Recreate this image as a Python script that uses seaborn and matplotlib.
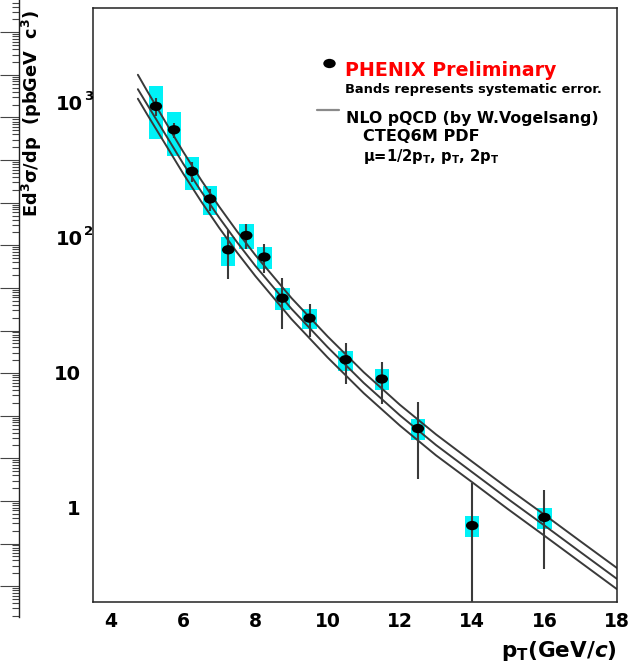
import numpy as np
import pandas as pd
import matplotlib
matplotlib.use("Agg")
import matplotlib.pyplot as plt
import seaborn as sns
from matplotlib.path import Path
from matplotlib.markers import MarkerStyle
from matplotlib.transforms import Affine2D, blended_transform_factory, offset_copy
from matplotlib.ticker import FixedLocator, LogLocator, MultipleLocator, NullFormatter, NullLocator

# PHENIX preliminary direct-photon invariant cross section
pt = [5.25, 5.75, 6.25, 6.75, 7.25, 7.75, 8.25, 8.75, 9.5, 10.5, 11.5, 12.5, 14.0, 16.0]
xsec = [940, 630, 310, 194, 81.5, 104, 72, 35.7, 25.4, 12.5, 9.0, 3.87, 0.74, 0.85]
stat_err = [140, 80, 53, 37, 32, 22, 17.5, 14.5, 7.0, 4.2, 3.1, 2.24, 0.79, 0.50]
sys_err = [400, 225, 85, 46, 20, 22, 13, 6.6, 4.3, 2.1, 1.6, 0.70, 0.13, 0.15]

# NLO pQCD (W. Vogelsang, CTEQ6M) for mu = pT/2, pT, 2pT
nlo_pt = [4.75, 5.0, 5.5, 6.0, 6.5, 7.0, 7.5, 8.0, 9.0, 10.0, 11.0, 12.0,
          13.0, 14.0, 15.0, 16.0, 17.0, 18.0]
nlo_half_pt = [1610, 1230, 730, 435, 268, 170, 111, 74.5, 35.8, 18.6, 10.1, 5.80,
               3.50, 2.20, 1.39, 0.89, 0.565, 0.36]
nlo_one_pt = [1259, 977, 589, 355, 221, 141, 92.3, 62.0, 29.8, 15.5, 8.42, 4.85,
              2.92, 1.84, 1.16, 0.741, 0.470, 0.299]
nlo_two_pt = [1070, 825, 498, 300, 186, 118.5, 77.5, 52.1, 25.0, 13.0, 7.07, 4.07,
              2.45, 1.55, 0.975, 0.622, 0.395, 0.251]
scale_names = ["1/2pT", "pT", "2pT"]

x_ticks = [4, 6, 8, 10, 12, 14, 16, 18]
y_ticks = [1, 10, 100, 1000]
y_tick_base = ["1", "10", "10", "10"]
y_tick_exp = ["", "", "2", "3"]

sns.set_style("white")
plt.rcParams["font.family"] = ["DejaVu Sans"]
plt.rcParams["font.weight"] = "bold"
plt.rcParams["text.color"] = "black"
plt.rcParams["xtick.labelcolor"] = "black"
plt.rcParams["ytick.labelcolor"] = "black"
plt.rcParams["mathtext.fontset"] = "custom"
plt.rcParams["mathtext.rm"] = "DejaVu Sans:bold"
plt.rcParams["mathtext.bf"] = "DejaVu Sans:bold"
plt.rcParams["mathtext.it"] = "DejaVu Sans:bold:italic"

W, H = 629, 665
fig = plt.figure(figsize=(W / 100, H / 100), dpi=100)
fig.patch.set_facecolor("white")


def px_rect(x0, y0, x1, y1):
    return [x0 / W, 1 - y1 / H, (x1 - x0) / W, (y1 - y0) / H]


ink = "#222222"

# ---- neighbouring panel edge (log ruler on the far left) ----
side = fig.add_axes(px_rect(-2, 0, 19, 617))
side.set_yscale("log")
side.set_ylim(10 ** 0.275, 10 ** 14.758)
for s in ("left", "top", "bottom"):
    side.spines[s].set_visible(False)
side.spines["right"].set_color(ink)
side.spines["right"].set_linewidth(1.0)
side.xaxis.set_major_locator(NullLocator())
side.yaxis.set_major_locator(LogLocator(base=10, numticks=40))
side.yaxis.set_minor_locator(LogLocator(base=10, subs=np.arange(2, 10), numticks=40))
side.yaxis.set_major_formatter(NullFormatter())
side.yaxis.set_minor_formatter(NullFormatter())
side.yaxis.tick_right()
side.tick_params(axis="y", which="both", direction="in", color="#444444", width=0.8,
                 labelright=False, left=False)
side.tick_params(axis="y", which="major", length=14)
side.tick_params(axis="y", which="minor", length=5)
side.patch.set_alpha(0)

# ---- main panel ----
ax = fig.add_axes(px_rect(92.7, 8.3, 616.7, 602.3))
ax.set_yscale("log")
ax.set_xlim(3.5, 18)
ax.set_ylim(0.2, 5000)

pt_a = np.array(pt)
y_a = np.array(xsec)
stat_a = np.array(stat_err)
sys_a = np.array(sys_err)

# systematic bands
ax.bar(pt_a, 2 * sys_a, bottom=y_a - sys_a, width=0.4, color="#00f2f7",
       linewidth=0, zorder=1)

# theory curves
n = len(nlo_pt)
curves = pd.DataFrame({
    "pt": nlo_pt * 3,
    "xsec": nlo_half_pt + nlo_one_pt + nlo_two_pt,
    "scale": [scale_names[0]] * n + [scale_names[1]] * n + [scale_names[2]] * n,
})
sns.lineplot(data=curves, x="pt", y="xsec", units="scale", estimator=None,
             sort=False, color="#3a3a3a", lw=1.4, ax=ax, zorder=2, legend=False)

# statistical errors
lo = np.maximum(y_a - stat_a, 1e-3)
hi = y_a + stat_a
ax.vlines(pt_a, lo, hi, color="#3a3a3a", lw=1.5, zorder=3)

# data points
ellipse = MarkerStyle(Path.unit_circle().transformed(Affine2D().scale(1.0, 0.75)))
sns.scatterplot(x=pt_a, y=y_a, marker=ellipse, s=80, color="black",
                edgecolor="none", linewidth=0, ax=ax, zorder=5, legend=False)

ax.set_xlabel("")
ax.set_ylabel("")
for s in ax.spines.values():
    s.set_color(ink)
    s.set_linewidth(1.1)

ax.xaxis.set_major_locator(FixedLocator(x_ticks))
ax.xaxis.set_minor_locator(MultipleLocator(0.5))
ax.set_xticklabels([str(t) for t in x_ticks])
ax.yaxis.set_major_locator(FixedLocator(y_ticks))
ax.yaxis.set_minor_locator(LogLocator(base=10, subs=np.arange(2, 10), numticks=20))
ax.yaxis.set_major_formatter(NullFormatter())
ax.yaxis.set_minor_formatter(NullFormatter())
ax.tick_params(which="both", direction="in", top=False, right=False,
               width=1.0, color=ink, labelcolor="black")
ax.tick_params(axis="x", which="major", length=12, pad=7, labelsize=13.5)
ax.tick_params(axis="x", which="minor", length=6.5)
ax.tick_params(axis="y", which="major", length=12.5)
ax.tick_params(axis="y", which="minor", length=6.5)

# y tick labels with raised exponents
ytrans = blended_transform_factory(ax.transAxes, ax.transData)
for val, base, exp in zip(y_ticks, y_tick_base, y_tick_exp):
    if exp:
        ax.text(0, val, base, fontsize=14, ha="right", va="center_baseline",
                transform=offset_copy(ytrans, fig=fig, x=-10, y=0, units="dots"))
        ax.text(0, val, exp, fontsize=9.5, ha="left", va="center_baseline",
                transform=offset_copy(ytrans, fig=fig, x=-9, y=8, units="dots"))
    else:
        ax.text(0, val, base, fontsize=14, ha="right", va="center_baseline",
                transform=offset_copy(ytrans, fig=fig, x=-12, y=0, units="dots"))

# ---- overlay in pixel coordinates for titles and key ----
ov = fig.add_axes([0, 0, 1, 1])
ov.set_xlim(0, W)
ov.set_ylim(H, 0)
ov.axis("off")
ov.patch.set_alpha(0)

ov.text(32, 10, r"Ed$^{\mathrm{3}}$σ/dp  (pbGeV  c$^{\mathrm{3}}$)", rotation=90,
        fontsize=12.8, ha="center", va="top")
ov.text(616.7, 651, r"p$_{\mathrm{T}}$(GeV/$c$)", fontsize=15.5, ha="right",
        va="center")

ov.scatter([329.3], [62.7], marker=ellipse, s=80, color="black", linewidth=0)
ov.text(345, 70.7, "PHENIX Preliminary", color="#ff0000", fontsize=13.7,
        ha="left", va="center")
ov.text(345, 89.3, "Bands represents systematic error.", fontsize=9.4,
        ha="left", va="center")
ov.plot([317, 339], [110, 110], color="#8a8a8a", lw=1.6)
ov.text(346, 118.3, "NLO pQCD (by W.Vogelsang)", fontsize=11.3, ha="left",
        va="center")
ov.text(363, 136.7, "CTEQ6M PDF", fontsize=11.6, ha="left", va="center")
ov.text(363, 156.7, r"μ=1/2p$_{\mathrm{T}}$, p$_{\mathrm{T}}$, 2p$_{\mathrm{T}}$",
        fontsize=10.6, ha="left", va="center")

fig.savefig("out.png", dpi=100)
